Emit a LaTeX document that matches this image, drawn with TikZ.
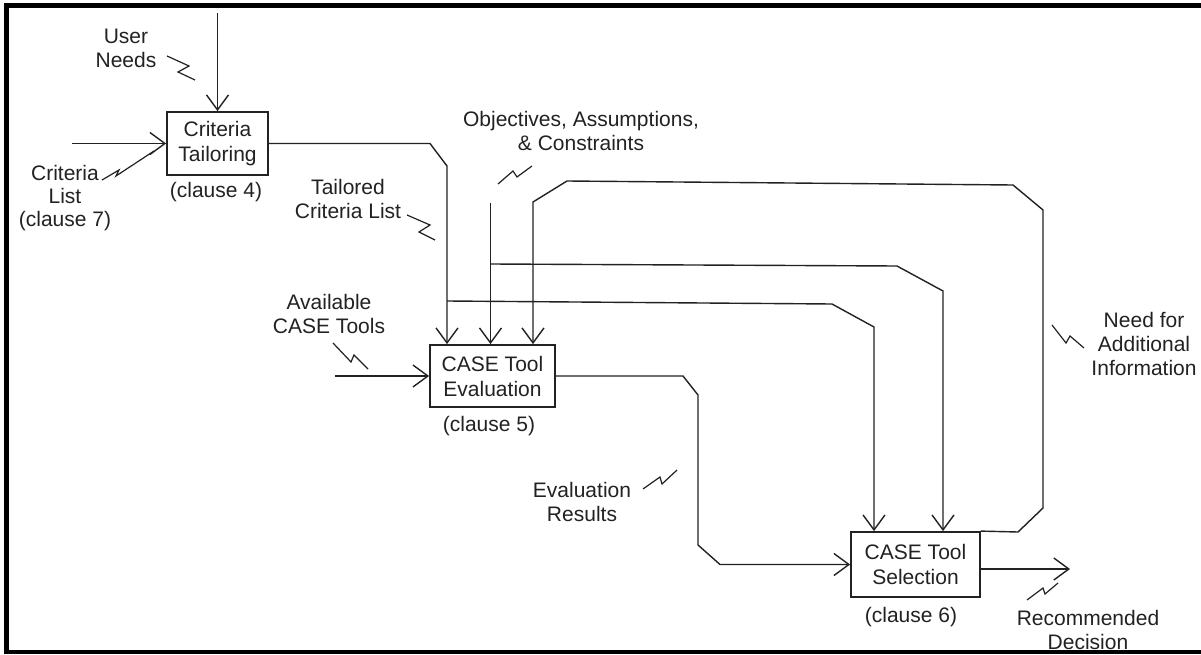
\documentclass[tikz,border=0pt]{standalone}
\usepackage{fontspec}
\setmainfont{Liberation Sans}
\usetikzlibrary{arrows.meta}
\definecolor{ink}{HTML}{222222}
\tikzset{
  conn/.style={draw=ink, line width=1.4pt},
  arr/.style={conn, -{Straight Barb[length=15pt,width=22pt,line width=1.4pt]}},
  procbox/.style={draw=ink, line width=1.8pt, fill=white, align=center, inner sep=0pt, text=ink,
    font=\fontsize{21}{25}\selectfont},
  lbl/.style={align=center, inner sep=0pt, text=ink, font=\fontsize{21}{24}\selectfont},
  squig/.style={draw=ink, line width=1.2pt, line join=miter},
  frame/.style={draw=black, line width=4.5pt}
}
\begin{document}
\begin{tikzpicture}[x=1pt,y=-1pt]
\useasboundingbox (0,0) rectangle (1201,655);
\fill[white] (0,0) rectangle (1201,655);
% frame
\draw[frame] (1201,5.5) -- (6.5,5.5) -- (6.5,652) -- (1201,652);

% process boxes
\node[procbox, minimum width=101pt, minimum height=63pt] (ct) at (217.5,143.5) {Criteria\\Tailoring};
\node[procbox, minimum width=125pt, minimum height=62pt] (ev) at (492.5,376) {CASE Tool\\Evaluation};
\node[procbox, minimum width=129pt, minimum height=65pt] (sel) at (915.5,564.5) {CASE Tool\\Selection};

% free ends
\coordinate (un) at (217.5,13);
\coordinate (cl) at (72,143.5);
\coordinate (ac) at (335,376);
\coordinate (ob) at (490.5,203);
\coordinate (rd) at (1070,569);

% inputs / controls
\draw[arr] (un) -- (ct.north);
\draw[arr] (cl) -- (ct.west);
\draw[arr] (ac) -- (ev.west);

% tailored criteria list
\draw[arr] (ct.east) -- (430,143.5) -- (447,166) -- (447,0 |- ev.north);
\draw[arr] (447,301) -- (832,304) -- (874,327) -- (874,0 |- sel.north);

% objectives
\draw[arr] (ob) -- (ob |- ev.north);
\draw[arr] (490.5,264) -- (897,266) -- (943,291) -- (943,0 |- sel.north);

% feedback loop
\draw[arr] (sel.north east) -- (1018,532) -- (1043,508) -- (1043,210) -- (1013,185) -- (567,181) -- (533,202) -- (533,0 |- ev.north);

% evaluation results
\draw[arr] (ev.east) -- (683,376) -- (698,395) -- (698,545) -- (720,564.5) -- (sel.west);

% output
\draw[arr] (sel.east |- rd) -- (rd);

% labels
\node[lbl] (tUN) at (126,48) {User\\Needs};
\node[lbl, font=\fontsize{21}{23}\selectfont] (tCL) at (65,198) {Criteria\\List\\(clause 7)};
\node[lbl] (c4) at (216,192) {(clause 4)};
\node[lbl] (tTC) at (348,199) {Tailored\\Criteria List};
\node[lbl] (tOB) at (581,131) {Objectives, Assumptions,\\\& Constraints};
\node[lbl] (tAC) at (329,314) {Available\\CASE Tools};
\node[lbl] (c5) at (489,426) {(clause 5)};
\node[lbl] (tER) at (582,502) {Evaluation\\Results};
\node[lbl] (tNA) at (1144,344) {Need for\\Additional\\Information};
\node[lbl] (c6) at (911,617) {(clause 6)};
\node[lbl] (tRD) at (1088,630) {Recommended\\Decision};

% squiggles
\draw[squig] (167,56) -- (189,66) -- (178,72) -- (195,80);
\draw[squig] (102,180) -- (119,170) -- (116,176) -- (154,151);
\draw[squig] (407,215) -- (430,225) -- (419,232) -- (435,240);
\draw[squig] (498,184) -- (513,171) -- (517,177) -- (532,166);
\draw[squig] (333,343) -- (351,362) -- (354,355) -- (368,369);
\draw[squig] (643,489) -- (660,477) -- (662,484) -- (677,470);
\draw[squig] (1052,325) -- (1066,343) -- (1070,336) -- (1084,348);
\draw[squig] (1027,600) -- (1043,588) -- (1045,594) -- (1058,583);
\end{tikzpicture}
\end{document}
